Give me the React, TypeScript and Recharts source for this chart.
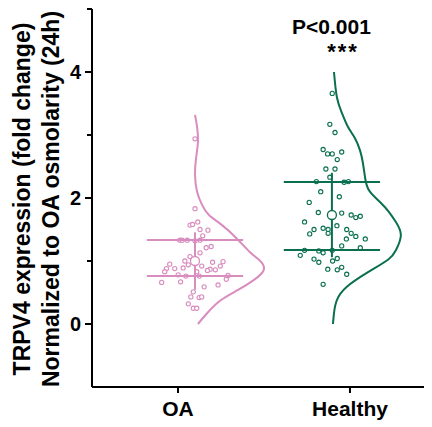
import React from 'react';
import { ScatterChart, Scatter, XAxis, YAxis, Customized } from 'recharts';

const FONT = '"Liberation Sans", Arial, Helvetica, sans-serif';
const PINK = '#d98cbe';
const GREEN = '#0a6f4f';

// Categories and axis ticks
const categories = ['OA', 'Healthy'];
const categoryTicks = [0.5, 1.5];
const groupCenters = [0.599, 1.395];
const yTicks = [-1, 0, 1, 2, 3, 4, 5];

// OA group: individual fold-change values and horizontal jitter
const oaValues = [2.94, 1.83, 1.57, 1.58, 1.62, 1.5, 1.49, 1.4, 1.33, 1.33, 1.33, 1.32, 1.33, 1.21, 1.23, 1.13, 1.07, 1.0, 0.98, 0.99, 0.95, 0.94, 0.92, 0.92, 0.88, 0.88, 0.89, 0.86, 0.87, 0.85, 0.83, 0.83, 0.78, 0.76, 0.76, 0.77, 0.71, 0.66, 0.67, 0.59, 0.62, 0.51, 0.43, 0.42, 0.43, 0.32, 0.25, 0.25];
const oaJitter = [0, 0, -0.029, -0.014, 0.016, 0.029, 0.075, 0.045, -0.088, -0.075, -0.045, 0, 0.029, 0.065, 0.094, 0.029, -0.029, -0.059, 0.102, 0.163, -0.147, -0.039, 0.039, 0.147, -0.166, -0.118, -0.069, 0.118, 0.088, 0.072, -0.176, 0.01, -0.098, -0.053, 0.025, 0.192, 0.182, -0.194, -0.084, 0.053, 0.134, -0.01, -0.024, 0.024, 0.039, -0.039, -0.01, 0.01];

// Healthy group
const healthyValues = [3.66, 3.17, 3.04, 2.77, 2.7, 2.7, 2.73, 2.61, 2.46, 2.46, 2.33, 2.26, 2.25, 2.26, 2.1, 2.02, 1.93, 1.77, 1.76, 1.73, 1.69, 1.71, 1.62, 1.5, 1.52, 1.5, 1.44, 1.43, 1.56, 1.5, 1.44, 1.39, 1.35, 1.35, 1.24, 1.21, 1.17, 1.09, 1.16, 1.13, 1.17, 1.03, 0.98, 1.0, 1.04, 0.87, 0.86, 0.9, 0.79, 0.63];
const healthyJitter = [0.002, -0.012, 0.018, -0.051, -0.025, 0.002, 0.057, 0.031, -0.035, 0.018, -0.012, -0.09, 0.071, 0.096, -0.065, 0.043, -0.132, -0.079, 0.057, 0.112, 0.139, 0.165, -0.159, -0.104, -0.051, -0.022, -0.022, -0.129, 0.029, 0.086, 0.112, 0.139, 0.084, 0.194, 0.057, 0.165, -0.159, -0.184, -0.076, -0.051, 0.002, -0.104, -0.076, 0.004, 0.031, -0.024, 0.031, 0.057, 0.086, -0.051];

// Summary statistics: [OA, Healthy]
const means = [1.0, 1.73];
const sds = [0.455, 0.67];
const q1s = [0.762, 1.175];
const q3s = [1.333, 2.254];
const quartileHalfWidth = 0.28;

// Half-violin density curves (value, width)
const oaCurveY = [3.32, 3.13, 2.89, 2.63, 2.37, 2.1, 1.89, 1.73, 1.57, 1.37, 1.14, 1.02, 0.87, 0.7, 0.54, 0.38, 0.17, 0.0];
const oaCurveW = [0, 0.012, 0.017, 0.006, 0, 0.012, 0.041, 0.081, 0.157, 0.238, 0.32, 0.372, 0.401, 0.343, 0.25, 0.151, 0.07, 0.017];
const healthyCurveY = [4.0, 3.6, 3.35, 3.13, 2.95, 2.76, 2.56, 2.29, 2.1, 1.92, 1.78, 1.62, 1.41, 1.17, 1.02, 0.81, 0.59, 0.38, 0.17, 0.0];
const healthyCurveW = [0.012, 0.029, 0.058, 0.093, 0.134, 0.163, 0.18, 0.195, 0.221, 0.285, 0.331, 0.372, 0.401, 0.372, 0.326, 0.203, 0.087, 0.029, 0.012, 0.006];

const groups = [
  { name: categories[0], color: PINK, values: oaValues, jitter: oaJitter, curveY: oaCurveY, curveW: oaCurveW },
  { name: categories[1], color: GREEN, values: healthyValues, jitter: healthyJitter, curveY: healthyCurveY, curveW: healthyCurveW },
];

const Hidden = () => <g />;

const makePoint = (color: string) => (props: any) => (
  <circle cx={props.cx} cy={props.cy} r={2.1} fill="#fff" stroke={color} strokeWidth={1.1} />
);
const makeMean = (color: string) => (props: any) => (
  <circle cx={props.cx} cy={props.cy} r={4.5} fill="#fff" stroke={color} strokeWidth={1.3} />
);

const YTick = (props: any) => {
  const { x, y, payload } = props;
  const v = payload.value;
  if (v === -1) return <g />;
  const major = v % 2 === 0;
  return (
    <g>
      <line x1={x - (major ? 7 : 5)} x2={x} y1={y} y2={y} stroke="#000" strokeWidth={2} />
      {major && (
        <text x={x - 11} y={y} dy="0.36em" textAnchor="end" fontSize={20} fontWeight="bold" fontFamily={FONT} fill="#000">
          {v}
        </text>
      )}
    </g>
  );
};

const Annotations = () => (
  <g fontFamily={FONT} fontWeight="bold" fill="#000">
    <text x={22} y={191} transform="rotate(-90 22 191)" textAnchor="middle" fontSize={23}>
      TRPV4 expression (fold change)
    </text>
    <text x={51} y={191} transform="rotate(-90 51 191)" textAnchor="middle" fontSize={23}>
      Normalized to OA osmolarity (24h)
    </text>
    <text x={323.5} y={26} textAnchor="middle" fontSize={21}>P&lt;0.001</text>
    <text x={335} y={51} textAnchor="middle" fontSize={22} letterSpacing={2}>***</text>
  </g>
);

export default function App() {
  return (
    <ScatterChart width={424} height={419} margin={{ top: 1, right: 0, bottom: 0, left: 0 }}>
      <XAxis
        type="number"
        dataKey="x"
        domain={[0, 1.977]}
        allowDataOverflow
        ticks={categoryTicks}
        interval={0}
        tickFormatter={(v: number) => categories[categoryTicks.indexOf(v)] ?? ''}
        height={40}
        tickSize={6}
        tickMargin={8}
        axisLine={{ stroke: '#000', strokeWidth: 2 }}
        tickLine={{ stroke: '#000', strokeWidth: 2 }}
        tick={{ fontSize: 21, fontWeight: 'bold', fill: '#000', fontFamily: FONT }}
      />
      <YAxis
        type="number"
        dataKey="y"
        domain={[-1, 5]}
        allowDataOverflow
        ticks={yTicks}
        interval={0}
        width={84}
        tickSize={0}
        tickMargin={0}
        tickLine={false}
        axisLine={{ stroke: '#000', strokeWidth: 2 }}
        tick={<YTick />}
      />
      {groups.map((g, gi) => (
        <Scatter
          key={'curve' + gi}
          data={g.curveY.map((y, i) => ({ x: groupCenters[gi] + g.curveW[i], y }))}
          line={{ stroke: g.color, strokeWidth: 2 }}
          lineJointType="natural"
          shape={Hidden}
          isAnimationActive={false}
        />
      ))}
      {groups.map((g, gi) => (
        <Scatter
          key={'pts' + gi}
          data={g.values.map((y, i) => ({ x: groupCenters[gi] + g.jitter[i], y }))}
          shape={makePoint(g.color)}
          isAnimationActive={false}
        />
      ))}
      {groups.map((g, gi) => [q1s[gi], q3s[gi]].map((q, qi) => (
        <Scatter
          key={'q' + gi + '-' + qi}
          data={[{ x: groupCenters[gi] - quartileHalfWidth, y: q }, { x: groupCenters[gi] + quartileHalfWidth, y: q }]}
          line={{ stroke: g.color, strokeWidth: 2.2 }}
          shape={Hidden}
          isAnimationActive={false}
        />
      )))}
      {groups.map((g, gi) => (
        <Scatter
          key={'sd' + gi}
          data={[{ x: groupCenters[gi], y: means[gi] - sds[gi] }, { x: groupCenters[gi], y: means[gi] + sds[gi] }]}
          line={{ stroke: g.color, strokeWidth: 2 }}
          shape={Hidden}
          isAnimationActive={false}
        />
      ))}
      {groups.map((g, gi) => (
        <Scatter
          key={'mean' + gi}
          data={[{ x: groupCenters[gi], y: means[gi] }]}
          shape={makeMean(g.color)}
          isAnimationActive={false}
        />
      ))}
      <Customized component={Annotations} />
    </ScatterChart>
  );
}
